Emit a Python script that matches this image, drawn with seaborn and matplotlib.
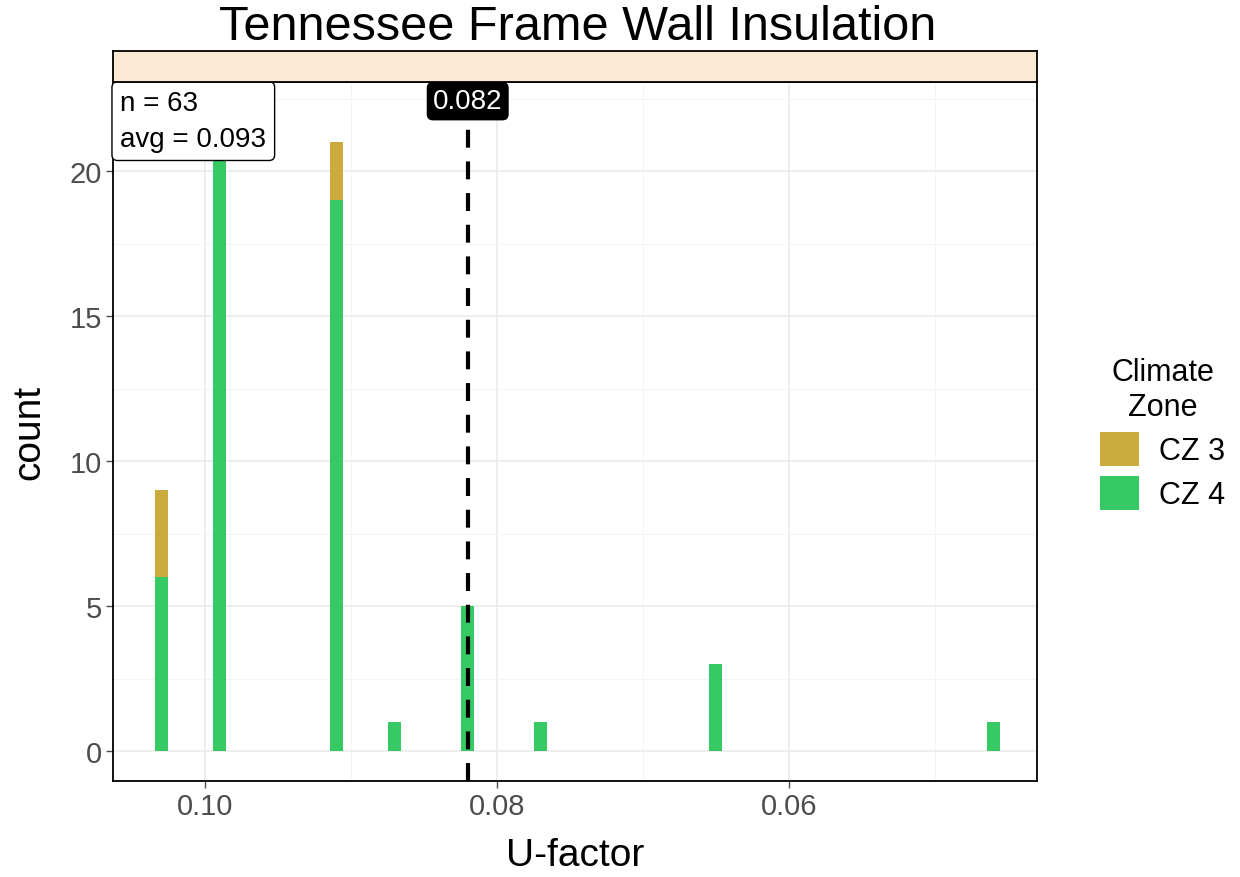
import numpy as np
import pandas as pd
import matplotlib
matplotlib.use("Agg")
import matplotlib.pyplot as plt
import seaborn as sns

# data
u_values = [0.103, 0.103, 0.099, 0.091, 0.091, 0.087, 0.082, 0.077, 0.065, 0.046]
zones = ["CZ 3", "CZ 4", "CZ 4", "CZ 3", "CZ 4", "CZ 4", "CZ 4", "CZ 4", "CZ 4", "CZ 4"]
counts = [3, 6, 22, 2, 19, 1, 5, 1, 3, 1]
zone_order = ["CZ 3", "CZ 4"]
zone_colors = ["#C9A633", "#2CC65C"]
target = 0.082

df = pd.DataFrame({"u": u_values, "zone": zones, "count": counts})
n = df["count"].sum()
avg = np.average(df["u"], weights=df["count"])

sns.set_theme(style="whitegrid")
plt.rcParams['font.family'] = ['Liberation Sans', 'DejaVu Sans']
plt.rcParams['text.color'] = 'black'

fig = plt.figure(figsize=(12.4, 8.78), dpi=100)
ax = fig.add_axes([113 / 1240, 1 - 782 / 878, 924 / 1240, 699 / 878])

# narrow bins centred on each value
half = 0.00045
edges = sorted(set([round(u - half, 5) for u in u_values] + [round(u + half, 5) for u in u_values]))
sns.histplot(data=df, x="u", hue="zone", weights="count", multiple="stack",
             bins=edges, hue_order=zone_order, palette=zone_colors,
             alpha=0.95, edgecolor="none", linewidth=0, ax=ax, legend=True)

ax.set_xlim(0.1063, 0.0430)
ax.set_ylim(-1.03, 23.07)
ax.set_xticks([0.10, 0.08, 0.06])
ax.set_xticklabels(["0.10", "0.08", "0.06"])
ax.set_yticks([0, 5, 10, 15, 20])
ax.set_xticks([0.09, 0.07, 0.05], minor=True)
ax.set_yticks([2.5, 7.5, 12.5, 17.5, 22.5], minor=True)
ax.grid(True, which="major", color="#ebebeb", linewidth=1.2)
ax.grid(True, which="minor", color="#f4f4f4", linewidth=0.7)
ax.set_axisbelow(True)
ax.tick_params(axis="both", which="major", labelsize=21, colors="#4d4d4d",
               length=5, width=1, direction="out", bottom=True, left=True, pad=3)
ax.tick_params(axis="both", which="minor", length=0)
for s in ax.spines.values():
    s.set_color("black")
    s.set_linewidth(1.3)
ax.set_xlabel("U-factor", fontsize=28, labelpad=12, color="black")
ax.set_ylabel("count", fontsize=28, labelpad=16, color="black")

ax.axvline(target, color="black", linestyle=(0, (4.3, 3.3)), linewidth=3, zorder=5)
ax.text(target, 22.41, f"{target:.3f}", ha="center", va="center", fontsize=20,
        color="white", zorder=6,
        bbox=dict(boxstyle="round,pad=0.2,rounding_size=0.2", fc="black", ec="black"))
ax.text(0.1058, 21.72, f"n = {n}\navg = {avg:.3f}", ha="left", va="center",
        fontsize=20, linespacing=1.5, zorder=6, color="black",
        bbox=dict(boxstyle="round,pad=0.3,rounding_size=0.2", fc="white", ec="black"))

sns.move_legend(ax, "center left", bbox_to_anchor=(1.038, 0.497), frameon=False,
                title="Climate\nZone", fontsize=22, title_fontsize=22,
                handlelength=1.3, handleheight=1.35, labelspacing=0.32,
                handletextpad=0.65)
leg = ax.get_legend()
leg.get_title().set_multialignment("center")
leg.get_title().set_color("black")
for t in leg.get_texts():
    t.set_color("black")

# strip above the panel
strip = fig.add_axes([113 / 1240, 1 - 83 / 878, 924 / 1240, 31 / 878])
strip.set_facecolor("#FBE9D3")
strip.set_xticks([])
strip.set_yticks([])
for s in strip.spines.values():
    s.set_color("black")
    s.set_linewidth(1.3)

fig.text(578 / 1240, 1 - 28 / 878, "Tennessee Frame Wall Insulation",
         ha="center", va="center", fontsize=35, color="black")

fig.savefig("out.png", dpi=100)
